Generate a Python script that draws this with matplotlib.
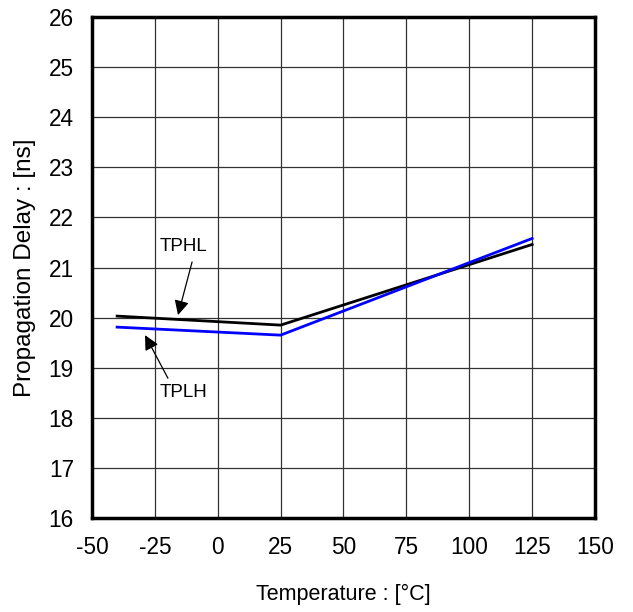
import matplotlib.pyplot as plt

plt.rcParams['font.family'] = ['Liberation Sans', 'DejaVu Sans']
plt.rcParams['axes.unicode_minus'] = False  # guion normal en -50, -25

# datos
temp = [-40, 25, 125]
tphl = [20.03, 19.85, 21.46]
tplh = [19.81, 19.65, 21.58]

x_ticks = [-50, -25, 0, 25, 50, 75, 100, 125, 150]
y_ticks = [16, 17, 18, 19, 20, 21, 22, 23, 24, 25, 26]

fig = plt.figure(figsize=(6.33, 6.12), dpi=100)
ax = fig.add_axes([0.1453, 0.1536, 0.7947, 0.8186])

ax.plot(temp, tphl, color='black', lw=2, zorder=3)
ax.plot(temp, tplh, color='#0000ff', lw=2, zorder=3)

ax.set_xlim(-50, 150)
ax.set_ylim(16, 26)
ax.set_xticks(x_ticks)
ax.set_yticks(y_ticks)
ax.grid(True, color='#333333', lw=0.9)
ax.tick_params(length=0, labelsize=16.3)
ax.tick_params(axis='x', pad=13)
ax.tick_params(axis='y', pad=13)
for s in ax.spines.values():
    s.set_linewidth(2.5)

# etiquetas y flechas
flecha = dict(arrowstyle='-|>', color='black', lw=0.9, mutation_scale=22,
              shrinkA=0, shrinkB=0)
ax.text(-13.8, 21.41, 'TPHL', fontsize=13.5, ha='center', va='center')
ax.annotate('', xy=(-15.8, 20.05), xytext=(-10.2, 21.11), arrowprops=flecha)
ax.text(-13.8, 18.51, 'TPLH', fontsize=13.5, ha='center', va='center')
ax.annotate('', xy=(-28.9, 19.65), xytext=(-19.8, 18.79), arrowprops=flecha)

ax.set_xlabel('Temperature : [°C]', fontsize=15.5, labelpad=18)
ax.set_ylabel('Propagation Delay : [ns]', fontsize=17.5, labelpad=9)

fig.savefig('out.png', dpi=100)
